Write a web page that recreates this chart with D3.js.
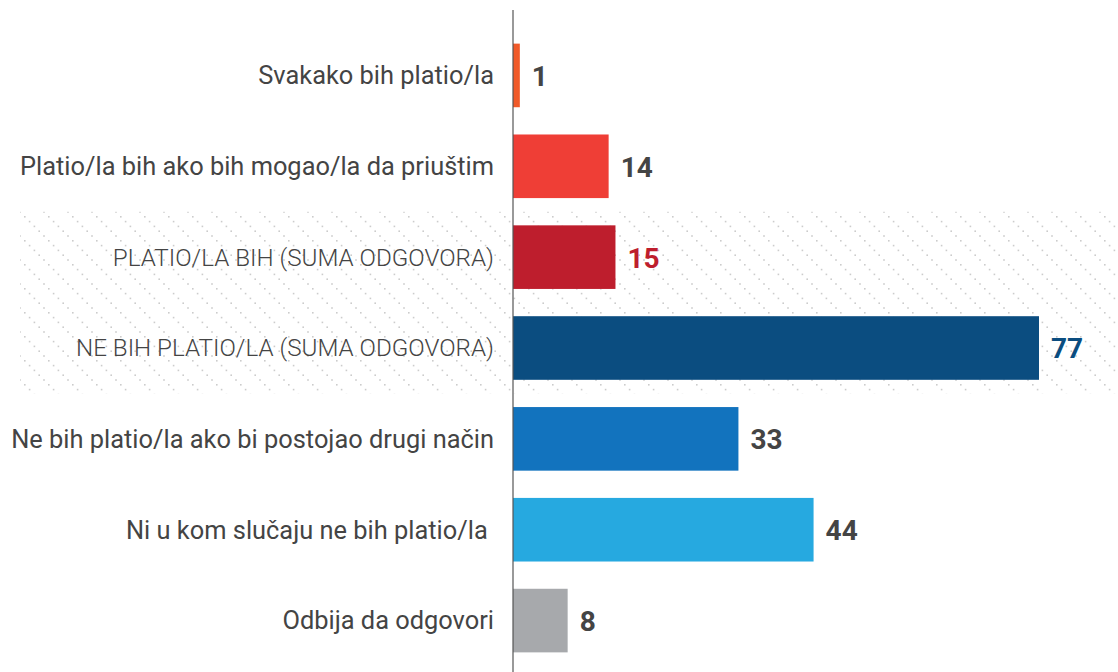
<!DOCTYPE html>
<html>
<head>
<meta charset="utf-8">
<script src="https://cdn.jsdelivr.net/npm/d3@7"></script>
<style>
  body { margin: 0; background: #fff; }
  text { font-family: Roboto, "Noto Sans", sans-serif; white-space: pre; }
</style>
</head>
<body>
<div id="chart"></div>
<script>
const categories = [
  "Svakako bih platio/la",
  "Platio/la bih ako bih mogao/la da priuštim",
  "PLATIO/LA BIH (SUMA ODGOVORA)",
  "NE BIH PLATIO/LA (SUMA ODGOVORA)",
  "Ne bih platio/la ako bi postojao drugi način",
  "Ni u kom slučaju ne bih platio/la ",
  "Odbija da odgovori"
];
const values = [1, 14, 15, 77, 33, 44, 8];
const barColors = ["#f15a29", "#ef3e36", "#be1e2d", "#0b4d80", "#1273be", "#26a9e0", "#a7a9ac"];
const valueColors = ["#444", "#444", "#be1e2d", "#0b4d80", "#444", "#444", "#444"];
const sumRows = [2, 3];

const width = 1118, height = 672;
const axisX = 513;

const svg = d3.select("#chart").append("svg")
  .attr("width", width)
  .attr("height", height);

// dotted diagonal hatch
const defs = svg.append("defs");
const pat = defs.append("pattern")
  .attr("id", "hatch")
  .attr("patternUnits", "userSpaceOnUse")
  .attr("width", 24)
  .attr("height", 24);
d3.range(5).forEach(i => {
  pat.append("rect")
    .attr("x", i * 4.8)
    .attr("y", i * 4.8)
    .attr("width", 1.6)
    .attr("height", 1.6)
    .attr("fill", "#cccccc");
});

const x = d3.scaleLinear().domain([0, 77]).range([axisX, 1039]);
const y = d3.scaleBand()
  .domain(categories)
  .range([30, 666])
  .paddingInner(0.3)
  .paddingOuter(0.15);

const pad = y.step() * 0.15;
svg.append("rect")
  .attr("x", 20)
  .attr("y", y(categories[sumRows[0]]) - pad)
  .attr("width", width - 20)
  .attr("height", y(categories[sumRows[1]]) + y.bandwidth() + pad - (y(categories[sumRows[0]]) - pad))
  .attr("fill", "url(#hatch)");

svg.selectAll("rect.bar")
  .data(values)
  .enter()
  .append("rect")
  .attr("class", "bar")
  .attr("x", x(0))
  .attr("y", (d, i) => y(categories[i]))
  .attr("width", d => x(d) - x(0))
  .attr("height", y.bandwidth())
  .attr("fill", (d, i) => barColors[i]);

svg.append("line")
  .attr("x1", axisX).attr("x2", axisX)
  .attr("y1", 10).attr("y2", height)
  .attr("stroke", "#555")
  .attr("stroke-width", 1.2);

svg.selectAll("text.cat")
  .data(categories)
  .enter()
  .append("text")
  .attr("class", "cat")
  .attr("x", 494)
  .attr("y", d => y(d) + y.bandwidth() / 2)
  .attr("dy", "0.35em")
  .attr("text-anchor", "end")
  .style("font-size", (d, i) => sumRows.includes(i) ? "24.2px" : "25.4px")
  .style("font-weight", (d, i) => sumRows.includes(i) ? 300 : 400)
  .style("fill", "#444")
  .text(d => d);

svg.selectAll("text.val")
  .data(values)
  .enter()
  .append("text")
  .attr("class", "val")
  .attr("x", d => x(d) + 12)
  .attr("y", (d, i) => y(categories[i]) + y.bandwidth() / 2)
  .attr("dy", "0.37em")
  .style("font-size", "28px")
  .style("font-weight", "bold")
  .style("fill", (d, i) => valueColors[i])
  .text(d => d);
</script>
</body>
</html>
